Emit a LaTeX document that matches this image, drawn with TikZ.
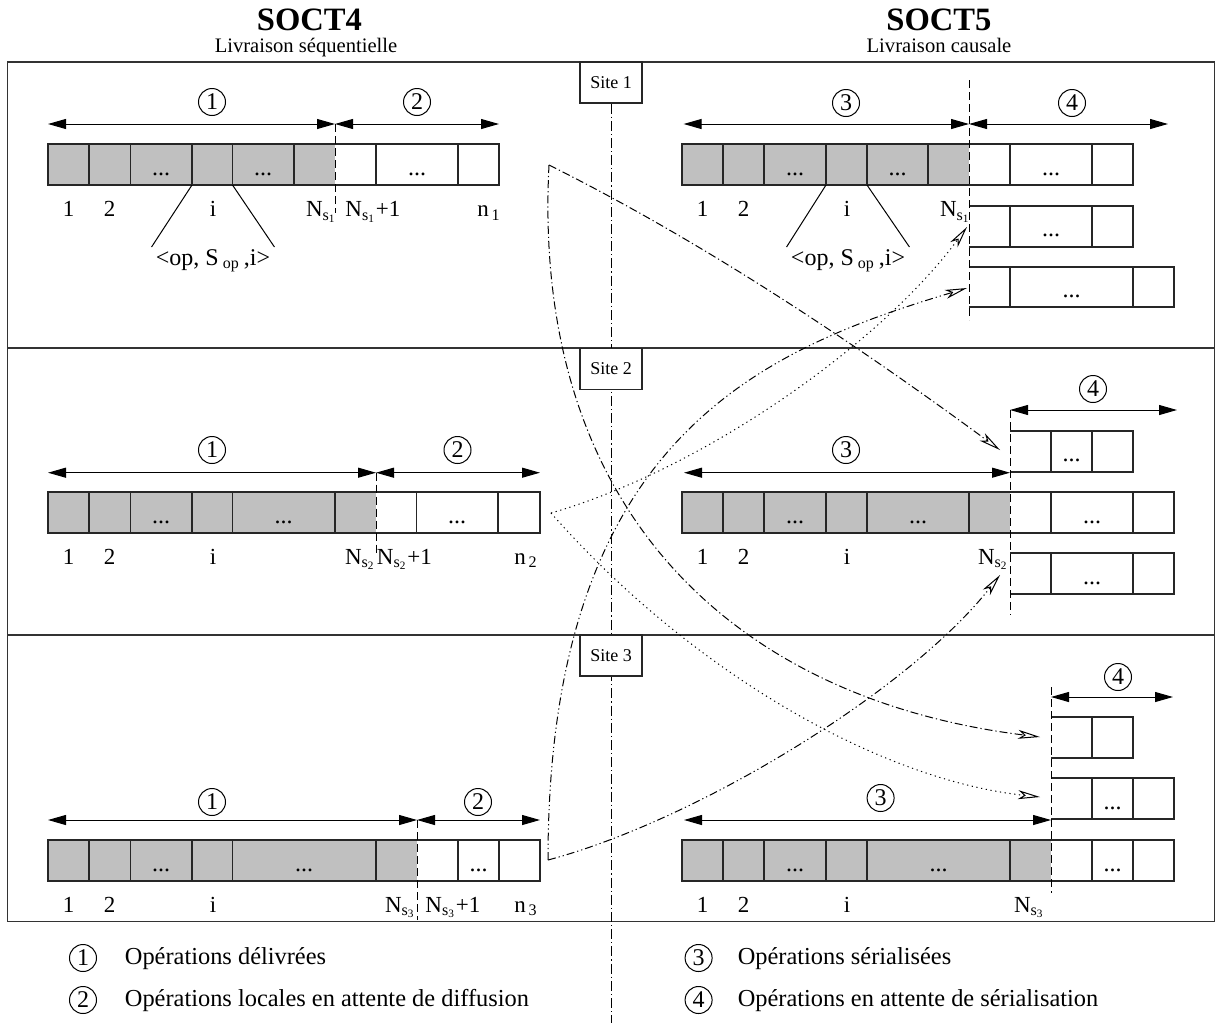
\documentclass[tikz,border=0pt]{standalone}
\usepackage{fontspec}
\setmainfont{Liberation Serif}
\usetikzlibrary{arrows.meta}
\definecolor{opgray}{RGB}{192,192,192}
\tikzset{frame/.style={draw=black!80, line width=0.7pt}}
\tikzset{cell/.style={draw=black!85, line width=0.65pt}}
\tikzset{opfill/.style={fill=opgray}}
\tikzset{sitebox/.style={draw=black!85, fill=white, line width=0.6pt, minimum width=31pt, minimum height=20.5pt, inner sep=0pt, font=\fontsize{9}{10}\selectfont}}
\tikzset{opnum/.style={circle, draw, line width=0.5pt, minimum size=13.5pt, inner sep=0pt, font=\fontsize{12}{12}\selectfont}}
\tikzset{title/.style={anchor=base, inner sep=0pt, font=\fontsize{16.3}{18}\selectfont\bfseries}}
\tikzset{subtitle/.style={anchor=base, inner sep=0pt, font=\fontsize{10.3}{12}\selectfont}}
\tikzset{lbl/.style={anchor=base, inner sep=0pt, font=\fontsize{11.5}{13}\selectfont}}
\tikzset{dotlbl/.style={anchor=base, inner sep=0pt, font=\fontsize{12}{13}\selectfont}}
\tikzset{tuple/.style={anchor=north, inner xsep=2pt, inner ysep=1pt, font=\fontsize{12}{13}\selectfont}}
\tikzset{legtext/.style={anchor=base west, inner sep=0pt, font=\fontsize{12.2}{14}\selectfont}}
\tikzset{span/.style={arrows={Triangle[length=9pt,width=5pt]-Triangle[length=9pt,width=5pt]}, line width=0.5pt}}
\tikzset{limit/.style={dash pattern=on 4pt off 2pt, line width=0.5pt}}
\tikzset{midaxis/.style={dash pattern=on 5pt off 1.5pt on 0.6pt off 1.5pt, line width=0.5pt}}
\tikzset{tie/.style={line width=0.5pt}}
\tikzset{diffone/.style={arrows={-Stealth[open,length=11pt,width=4.5pt,inset=3pt]}, dash pattern=on 4pt off 1.5pt on 0.6pt off 1.5pt, line width=0.5pt}}
\tikzset{difftwo/.style={arrows={-Stealth[open,length=11pt,width=4.5pt,inset=3pt]}, dash pattern=on 0.6pt off 1.8pt, line width=0.5pt}}
\tikzset{diffthree/.style={arrows={-Stealth[open,length=11pt,width=4.5pt,inset=3pt]}, dash pattern=on 4pt off 1.5pt on 0.6pt off 1.5pt on 0.6pt off 1.5pt, line width=0.5pt}}

\begin{document}
\begin{tikzpicture}[x=0.5pt,y=-0.5pt]
\useasboundingbox (0,0) rectangle (1216,1023);
%titles
\node (soct4) at (309.5,30.5)[title]{SOCT4};
\node (liv4) at (306,52.5)[subtitle]{Livraison séquentielle};
\node (soct5) at (939,30.5)[title]{SOCT5};
\node (liv5) at (939,52.5)[subtitle]{Livraison causale};

%frame
\draw[frame] (7.5,62) rectangle (1214.5,921.7);
\draw[frame] (7.5,348)--(1214.5,348);
\draw[frame] (7.5,635)--(1214.5,635);

%sites and axis
\node (site1) at (611,82.5)[sitebox]{Site 1};
\coordinate (axend) at (611,1023);
\draw[midaxis] (site1.south)--(axend);
\node (site2) at (611,369)[sitebox]{Site 2};
\node (site3) at (611,655.5)[sitebox]{Site 3};

%site 1 left
\fill[opfill] (48,144) rectangle (335,185);
\draw[cell] (48,144) rectangle (499,185);
\draw[cell] (89,144)--(89,185) (130.5,144)--(130.5,185) (192,144)--(192,185) (232.5,144)--(232.5,185) (294,144)--(294,185) (376,144)--(376,185) (458,144)--(458,185);
\coordinate (l1a) at (48,124);
\coordinate (l1b) at (335,124);
\coordinate (l1c) at (499,124);
\coordinate (l1e) at (335,213);
\draw[limit] (l1b)--(l1e);
\draw[span] (l1a)--(l1b);
\draw[span] (l1b)--(l1c);
\node (l1c1) at (212,102)[opnum]{1};
\node (l1c2) at (417,102)[opnum]{2};
\node (l1d1) at (161,175)[dotlbl]{...};
\node (l1d2) at (263,175)[dotlbl]{...};
\node (l1d3) at (417,175)[dotlbl]{...};
\node (l1one) at (68.5,216.7)[lbl]{1};
\node (l1two) at (109.7,216.7)[lbl]{2};
\node (l1i) at (213,216.7)[lbl]{i};
\node (l1ns) at (337,216.7)[lbl, anchor=base east]{N\textsubscript{s\textsubscript{1}}};
\node (l1next) at (345,216.7)[lbl, anchor=base west]{N\textsubscript{s\textsubscript{1}}+1};
\node (l1n) at (477,216.7)[lbl, anchor=base west]{n\textsubscript{\,1}};
\node (l1tup) at (213,247)[tuple]{<op, S\,\textsubscript{op}\,,i>};
\coordinate (l1il) at (192,185);
\coordinate (l1ir) at (232.5,185);
\draw[tie] (l1il)--(l1tup.north west);
\draw[tie] (l1ir)--(l1tup.north east);

%site 2 left
\fill[opfill] (48,492) rectangle (376,533);
\draw[cell] (48,492) rectangle (540,533);
\draw[cell] (89,492)--(89,533) (130.5,492)--(130.5,533) (192,492)--(192,533) (232.5,492)--(232.5,533) (335,492)--(335,533) (416.5,492)--(416.5,533) (498,492)--(498,533);
\coordinate (l2a) at (48,472.7);
\coordinate (l2b) at (376,472.7);
\coordinate (l2c) at (540,472.7);
\coordinate (l2e) at (376,553);
\draw[limit] (l2b)--(l2e);
\draw[span] (l2a)--(l2b);
\draw[span] (l2b)--(l2c);
\node (l2c1) at (212,450)[opnum]{1};
\node (l2c2) at (457.5,450)[opnum]{2};
\node (l2d1) at (161,523)[dotlbl]{...};
\node (l2d2) at (283.7,523)[dotlbl]{...};
\node (l2d3) at (457,523)[dotlbl]{...};
\node (l2one) at (68.5,564)[lbl]{1};
\node (l2two) at (109.7,564)[lbl]{2};
\node (l2i) at (213,564)[lbl]{i};
\node (l2ns) at (376,564)[lbl, anchor=base east]{N\textsubscript{s\textsubscript{2}}};
\node (l2next) at (376.5,564)[lbl, anchor=base west]{N\textsubscript{s\textsubscript{2}}+1};
\node (l2n) at (514,564)[lbl, anchor=base west]{n\textsubscript{\,2}};

%site 3 left
\fill[opfill] (48,840) rectangle (417,881);
\draw[cell] (48,840) rectangle (540,881);
\draw[cell] (89,840)--(89,881) (130.5,840)--(130.5,881) (192,840)--(192,881) (232.5,840)--(232.5,881) (376,840)--(376,881) (458,840)--(458,881) (499,840)--(499,881);
\coordinate (l3a) at (48,820);
\coordinate (l3b) at (417,820);
\coordinate (l3c) at (540,820);
\coordinate (l3e) at (417,920);
\draw[limit] (l3b)--(l3e);
\draw[span] (l3a)--(l3b);
\draw[span] (l3b)--(l3c);
\node (l3c1) at (212,802)[opnum]{1};
\node (l3c2) at (478,802)[opnum]{2};
\node (l3d1) at (161,871)[dotlbl]{...};
\node (l3d2) at (304,871)[dotlbl]{...};
\node (l3d3) at (478.5,871)[dotlbl]{...};
\node (l3one) at (68.5,912)[lbl]{1};
\node (l3two) at (109.7,912)[lbl]{2};
\node (l3i) at (213,912)[lbl]{i};
\node (l3ns) at (416,912)[lbl, anchor=base east]{N\textsubscript{s\textsubscript{3}}};
\node (l3next) at (425,912)[lbl, anchor=base west]{N\textsubscript{s\textsubscript{3}}+1};
\node (l3n) at (514,912)[lbl, anchor=base west]{n\textsubscript{\,3}};

%site 1 right
\fill[opfill] (682,144) rectangle (969,185);
\draw[cell] (682,144) rectangle (1133,185);
\draw[cell] (723,144)--(723,185) (764,144)--(764,185) (826,144)--(826,185) (867,144)--(867,185) (928,144)--(928,185) (1010,144)--(1010,185) (1092,144)--(1092,185);
\draw[cell] (969,206)--(1133,206)--(1133,247)--(969,247) (1010,206)--(1010,247) (1092,206)--(1092,247);
\draw[cell] (969,267)--(1174,267)--(1174,307)--(969,307) (1010,267)--(1010,307) (1133,267)--(1133,307);
\coordinate (r1a) at (683.6,124);
\coordinate (r1b) at (969,124);
\coordinate (r1c) at (1168,124);
\coordinate (r1t) at (969,80);
\coordinate (r1e) at (969,320);
\draw[limit] (r1t)--(r1e);
\draw[span] (r1a)--(r1b);
\draw[span] (r1b)--(r1c);
\node (r1c3) at (846,103)[opnum]{3};
\node (r1c4) at (1072,103)[opnum]{4};
\node (r1d1) at (795,175)[dotlbl]{...};
\node (r1d2) at (897.5,175)[dotlbl]{...};
\node (r1d3) at (1051,175)[dotlbl]{...};
\node (r1d4) at (1051,236)[dotlbl]{...};
\node (r1d5) at (1071.5,297)[dotlbl]{...};
\node (r1one) at (702.5,216.7)[lbl]{1};
\node (r1two) at (743.5,216.7)[lbl]{2};
\node (r1i) at (847,216.7)[lbl]{i};
\node (r1ns) at (971,216.7)[lbl, anchor=base east]{N\textsubscript{s\textsubscript{1}}};
\node (r1tup) at (848,247)[tuple]{<op, S\,\textsubscript{op}\,,i>};
\coordinate (r1il) at (826,185);
\coordinate (r1ir) at (867,185);
\draw[tie] (r1il)--(r1tup.north west);
\draw[tie] (r1ir)--(r1tup.north east);

%site 2 right
\draw[cell] (1010,431)--(1133,431)--(1133,472)--(1010,472) (1051,431)--(1051,472) (1092,431)--(1092,472);
\fill[opfill] (682,492) rectangle (1010,533);
\draw[cell] (682,492) rectangle (1174,533);
\draw[cell] (723,492)--(723,533) (764,492)--(764,533) (826,492)--(826,533) (867,492)--(867,533) (969,492)--(969,533) (1051,492)--(1051,533) (1133,492)--(1133,533);
\draw[cell] (1010,553)--(1174,553)--(1174,594)--(1010,594) (1051,553)--(1051,594) (1133,553)--(1133,594);
\coordinate (r2a) at (684,472.7);
\coordinate (r2b) at (1010,472.7);
\coordinate (r2c) at (1010,410);
\coordinate (r2d) at (1177,410);
\coordinate (r2e) at (1010,615);
\draw[limit] (r2c)--(r2e);
\draw[span] (r2a)--(r2b);
\draw[span] (r2c)--(r2d);
\node (r2c4) at (1093,389)[opnum]{4};
\node (r2c3) at (846,450)[opnum]{3};
\node (r2d1) at (1071.5,461)[dotlbl]{...};
\node (r2d2) at (795,523)[dotlbl]{...};
\node (r2d3) at (918,523)[dotlbl]{...};
\node (r2d4) at (1092,523)[dotlbl]{...};
\node (r2d5) at (1092,584)[dotlbl]{...};
\node (r2one) at (702.5,564)[lbl]{1};
\node (r2two) at (743.5,564)[lbl]{2};
\node (r2i) at (847,564)[lbl]{i};
\node (r2ns) at (1009,564)[lbl, anchor=base east]{N\textsubscript{s\textsubscript{2}}};

%site 3 right
\draw[cell] (1051,717)--(1133,717)--(1133,758)--(1051,758) (1092,717)--(1092,758);
\draw[cell] (1051,778)--(1174,778)--(1174,819)--(1051,819) (1092,778)--(1092,819) (1133,778)--(1133,819);
\fill[opfill] (682,840) rectangle (1051,881);
\draw[cell] (682,840) rectangle (1174,881);
\draw[cell] (723,840)--(723,881) (764,840)--(764,881) (826,840)--(826,881) (867,840)--(867,881) (1010,840)--(1010,881) (1092,840)--(1092,881) (1133,840)--(1133,881);
\coordinate (r3a) at (684,820);
\coordinate (r3b) at (1051,820);
\coordinate (r3c) at (1051,697);
\coordinate (r3d) at (1173,697);
\coordinate (r3t) at (1051,687);
\coordinate (r3e) at (1051,893);
\draw[limit] (r3t)--(r3e);
\draw[span] (r3a)--(r3b);
\draw[span] (r3c)--(r3d);
\node (r3c4) at (1118,677)[opnum]{4};
\node (r3c3) at (880.6,798)[opnum]{3};
\node (r3d1) at (1112.5,809)[dotlbl]{...};
\node (r3d2) at (795,871)[dotlbl]{...};
\node (r3d3) at (938.5,871)[dotlbl]{...};
\node (r3d4) at (1112.5,871)[dotlbl]{...};
\node (r3one) at (702.5,912)[lbl]{1};
\node (r3two) at (743.5,912)[lbl]{2};
\node (r3i) at (847,912)[lbl]{i};
\node (r3ns) at (1045,912)[lbl, anchor=base east]{N\textsubscript{s\textsubscript{3}}};

%diffusion between sites
\coordinate (s1) at (549,165);
\coordinate (s2) at (551,513);
\coordinate (s3) at (548,860);
\coordinate (q1b) at (967,227);
\coordinate (q1c) at (967,288);
\coordinate (q2a) at (1000,450);
\coordinate (q2c) at (1000,575);
\coordinate (q3a) at (1040,737);
\coordinate (q3b) at (1040,797);
\draw[diffone] (s1) .. controls (699,240) and (847,337.5) .. (q2a);
\draw[diffone] (s1) .. controls (531,515) and (739,700) .. (q3a);
\draw[difftwo] (s2) .. controls (701,470) and (880,345) .. (q1b);
\draw[difftwo] (s2) .. controls (691,672) and (880,780) .. (q3b);
\draw[diffthree] (s3) .. controls (548,440) and (760,350) .. (q1c);
\draw[diffthree] (s3) .. controls (698,820) and (910,690) .. (q2c);

%legend
\node (leg1) at (83,958)[opnum]{1};
\node (leg1t) at (124.5,964)[legtext]{Opérations délivrées};
\node (leg2) at (83,1000)[opnum]{2};
\node (leg2t) at (124.5,1006)[legtext]{Opérations locales en attente de diffusion};
\node (leg3) at (698.6,958)[opnum]{3};
\node (leg3t) at (737.4,964)[legtext]{Opérations sérialisées};
\node (leg4) at (698.6,1000)[opnum]{4};
\node (leg4t) at (737.4,1006)[legtext]{Opérations en attente de sérialisation};
\end{tikzpicture}
\end{document}
